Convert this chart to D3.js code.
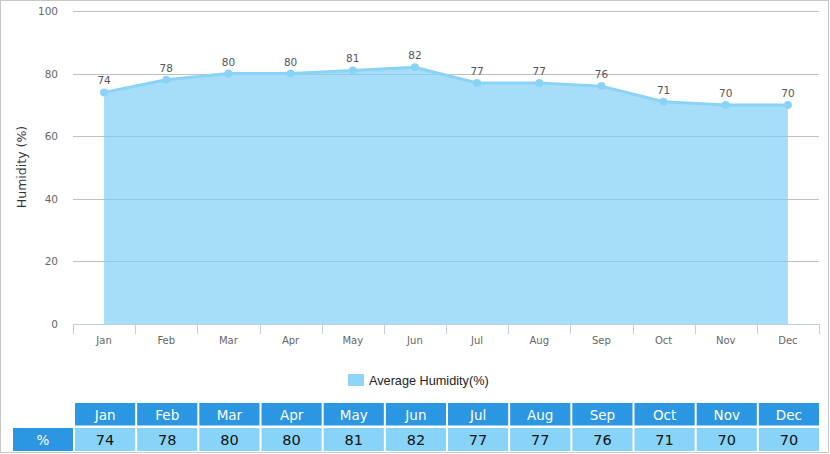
<!DOCTYPE html>
<html><head><meta charset="utf-8">
<script src="https://cdn.jsdelivr.net/npm/d3@7"></script>
<style>body{margin:0;background:#fff}svg{display:block}</style>
</head><body>
<svg id="c" width="830" height="454"></svg>
<script>
const months = ["Jan","Feb","Mar","Apr","May","Jun","Jul","Aug","Sep","Oct","Nov","Dec"];
const humidity = [74,78,80,80,81,82,77,77,76,71,70,70];
const yTicks = [0,20,40,60,80,100];
const seriesName = "Average Humidity(%)";
const rowLabel = "%";

const svg = d3.select("#c");
svg.append("rect").attr("x",0.5).attr("y",0.5).attr("width",828).attr("height",452)
  .attr("fill","#fff").attr("stroke","#c8c8c8");

const x = d3.scaleBand().domain(months).range([73,819]);
const y = d3.scaleLinear().domain([0,100]).range([324,11]);
const cx = d => x(d) + x.bandwidth()/2;

// grid
svg.append("g").selectAll("line").data(yTicks.filter(t=>t>0)).join("line")
  .attr("x1",73).attr("x2",819).attr("y1",d=>Math.round(y(d))+0.5).attr("y2",d=>Math.round(y(d))+0.5)
  .attr("stroke","#c0c0c0").attr("stroke-width",1);

// y labels
svg.append("g").selectAll("text").data(yTicks).join("text")
  .attr("x",58).attr("y",d=>y(d)+4).attr("text-anchor","end")
  .attr("font-family","DejaVu Sans, Verdana, sans-serif").attr("font-size",10.5).attr("fill","#666")
  .text(d=>d);

// y title
svg.append("text").attr("transform","translate(26,167) rotate(-90)").attr("text-anchor","middle")
  .attr("font-family","DejaVu Sans, Verdana, sans-serif").attr("font-size",12.5).attr("fill","#333")
  .text("Humidity (%)");

// area
const area = d3.area().x((d,i)=>cx(months[i])).y0(y(0)).y1(d=>y(d));
svg.append("path").datum(humidity).attr("d",area).attr("fill","#7ccdf5").attr("fill-opacity",0.68);
const line = d3.line().x((d,i)=>cx(months[i])).y(d=>y(d));
svg.append("path").datum(humidity).attr("d",line).attr("fill","none").attr("stroke","#8ad3f7").attr("stroke-width",3);
svg.append("g").selectAll("circle").data(humidity).join("circle")
  .attr("cx",(d,i)=>cx(months[i])).attr("cy",d=>y(d)).attr("r",4).attr("fill","#8ad3f7");
svg.append("g").selectAll("text").data(humidity).join("text")
  .attr("x",(d,i)=>cx(months[i])).attr("y",d=>y(d)-8).attr("text-anchor","middle")
  .attr("font-family","DejaVu Sans, Verdana, sans-serif").attr("font-size",10.5).attr("fill","#555")
  .text(d=>d);

// x axis
const xa = svg.append("g");
xa.append("line").attr("x1",73).attr("x2",819).attr("y1",324.5).attr("y2",324.5).attr("stroke","#c0d0e0");
xa.selectAll("line.t").data(d3.range(13)).join("line").attr("class","t")
  .attr("x1",i=>Math.round(73+i*x.step())+0.5).attr("x2",i=>Math.round(73+i*x.step())+0.5)
  .attr("y1",324).attr("y2",334).attr("stroke","#c0d0e0");
xa.selectAll("text").data(months).join("text")
  .attr("x",d=>cx(d)).attr("y",344).attr("text-anchor","middle")
  .attr("font-family","DejaVu Sans, Verdana, sans-serif").attr("font-size",10).attr("fill","#666")
  .text(d=>d);

// legend
svg.append("rect").attr("x",348).attr("y",374).attr("width",16).attr("height",12).attr("fill","#8dd4f8");
svg.append("text").attr("x",369).attr("y",385).attr("font-family","Liberation Sans, Arial, sans-serif")
  .attr("font-size",12.7).attr("fill","#222").text(seriesName);

// table
const tb = svg.append("g");
const colX = i => 73 + i*x.step() + 2;
const cw = x.step() - 2;
tb.selectAll("rect.h").data(months).join("rect").attr("class","h")
  .attr("x",(d,i)=>colX(i)).attr("y",403).attr("width",cw).attr("height",22.5).attr("fill","#2b96e2");
tb.selectAll("text.h").data(months).join("text").attr("class","h")
  .attr("x",(d,i)=>colX(i)+cw/2).attr("y",419.5).attr("text-anchor","middle")
  .attr("font-family","DejaVu Sans, Verdana, sans-serif").attr("font-size",13.5).attr("fill","#fff").text(d=>d);
tb.append("rect").attr("x",13).attr("y",428).attr("width",60).attr("height",23).attr("fill","#2b96e2");
tb.append("text").attr("x",43).attr("y",444.5).attr("text-anchor","middle")
  .attr("font-family","DejaVu Sans, Verdana, sans-serif").attr("font-size",13.5).attr("fill","#fff").text(rowLabel);
tb.selectAll("rect.v").data(humidity).join("rect").attr("class","v")
  .attr("x",(d,i)=>colX(i)).attr("y",428).attr("width",cw).attr("height",23).attr("fill","#88d4f8");
tb.selectAll("text.v").data(humidity).join("text").attr("class","v")
  .attr("x",(d,i)=>colX(i)+cw/2).attr("y",445).attr("text-anchor","middle")
  .attr("font-family","DejaVu Sans, Verdana, sans-serif").attr("font-size",14.5).attr("fill","#111").text(d=>d);
</script>
</body></html>
